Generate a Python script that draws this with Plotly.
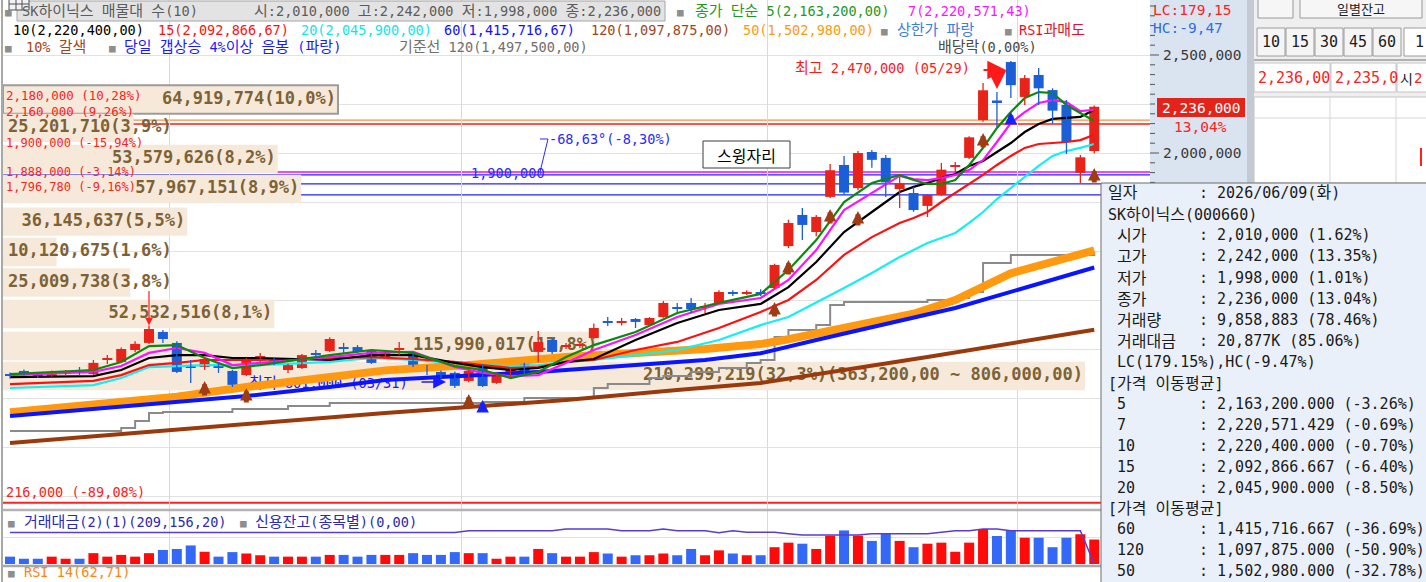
import re
import plotly.graph_objects as go

W, H = 1426, 582
KR = "Noto Sans CJK KR"
MIX = "DejaVu Sans Mono, Noto Sans CJK KR"
MONO = "DejaVu Sans Mono"

# ---------------- data ----------------
DAY = list(range(79))
OPEN = [868000, 888000, 864000, 862000, 876000, 890000, 872000, 947000, 934000, 995000,
        1031000, 1087000, 1031000, 910000, 908000, 910000, 888000, 867000, 957000, 949000,
        893000, 903000, 975000, 990000, 1008000, 1010000, 990000, 959000, 998000, 980000,
        895000, 883000, 878000, 837000, 918000, 827000, 857000, 924000, 985000, 1046000,
        1013000, 1018000, 1056000, 1140000, 1136000, 1153000, 1122000, 1163000, 1211000, 1235000,
        1213000, 1235000, 1288000, 1284000, 1288000, 1311000, 1525000, 1684000, 1597000, 1776000,
        1939000, 1821000, 2005000, 1975000, 1816000, 1796000, 1730000, 1786000, 1930000, 1975000,
        2168000, 2268000, 2464000, 2286000, 2398000, 2321000, 2245000, 1898000, 2010000]
HIGH = [880000, 895000, 870000, 890000, 893000, 908000, 944000, 969000, 1008000, 1040000,
        1120000, 1097000, 1040000, 944000, 959000, 934000, 893000, 954000, 980000, 957000,
        925000, 975000, 995000, 1060000, 1031000, 1020000, 995000, 985000, 1036000, 985000,
        918000, 890000, 885000, 895000, 923000, 875000, 900000, 930000, 1092000, 1055000,
        1030000, 1035000, 1130000, 1163000, 1158000, 1158000, 1163000, 1245000, 1235000, 1260000,
        1235000, 1300000, 1300000, 1300000, 1305000, 1435000, 1660000, 1720000, 1684000, 1944000,
        1985000, 2010000, 2015000, 1990000, 1877000, 1826000, 1790000, 1949000, 1954000, 2085000,
        2357000, 2311000, 2470000, 2398000, 2434000, 2330000, 2270000, 1990000, 2242000]
LOW = [850000, 865000, 852000, 858000, 862000, 866000, 868000, 924000, 930000, 985000,
       1025000, 1031000, 878000, 827000, 893000, 878000, 806000, 862000, 934000, 918000,
       878000, 898000, 954000, 985000, 980000, 978000, 924000, 954000, 969000, 908000,
       867000, 850000, 801000, 830000, 806000, 822000, 852000, 872000, 933000, 975000,
       1000000, 1005000, 1050000, 1117000, 1120000, 1107000, 1117000, 1160000, 1189000, 1183000,
       1184000, 1230000, 1270000, 1275000, 1270000, 1305000, 1515000, 1556000, 1575000, 1770000,
       1786000, 1810000, 1925000, 1775000, 1720000, 1700000, 1673000, 1780000, 1903000, 1970000,
       2160000, 2133000, 2280000, 2245000, 2245000, 2150000, 1995000, 1847000, 1998000]
CLOSE = [866000, 872000, 860000, 883000, 879000, 886000, 929000, 950000, 1000000, 1026000,
         1102000, 1051000, 883000, 906000, 949000, 906000, 817000, 939000, 960000, 923000,
         918000, 969000, 972000, 1051000, 1005000, 985000, 929000, 980000, 1001000, 913000,
         892000, 857000, 812000, 888000, 811000, 867000, 893000, 878000, 1036000, 985000,
         1016000, 1021000, 1107000, 1137000, 1139000, 1138000, 1158000, 1235000, 1208000, 1204000,
         1216000, 1291000, 1284000, 1288000, 1284000, 1429000, 1643000, 1633000, 1674000, 1912000,
         1798000, 2000000, 1965000, 1850000, 1844000, 1709000, 1786000, 1915000, 1935000, 2080000,
         2320000, 2260000, 2346000, 2382000, 2330000, 2216000, 2056000, 1978000, 2236000]
# 거래대금 (백만원)
TRADE_VALUE = [62800, 44900, 44900, 62800, 44900, 44900, 92700, 62800, 77700, 62800,
               92700, 119600, 128600, 158500, 104600, 62800, 101700, 89700, 74800, 62800,
               62800, 62800, 62800, 77700, 77700, 62800, 77700, 77700, 77700, 92700,
               77700, 77700, 101700, 92700, 92700, 44900, 62800, 62800, 128600, 92700,
               62800, 62800, 101700, 89700, 62800, 74800, 74800, 89700, 74800, 128600,
               74800, 116600, 89700, 74800, 74800, 143500, 182400, 173400, 128600, 242200,
               287000, 242200, 197300, 257100, 197300, 143500, 173400, 182400, 104600, 182400,
               299000, 239200, 287000, 224300, 224300, 143500, 224300, 254200, 209156]
# 신용잔고 (종목별)
CREDIT = [31.5, 31.5, 31.5, 31.5, 31.5, 31.5, 31.5, 31.5, 31.5, 31.5,
          31.5, 31.5, 31.5, 31.5, 31.5, 31.5, 31.5, 31.5, 31.5, 31.5,
          31.5, 31.5, 31.5, 31.5, 31.5, 31.5, 31.5, 31.5, 31.5, 31.5,
          31.5, 31.5, 31.5, 33.3, 33.3, 33.3, 33.3, 33.3, 33.3, 33.3,
          35.0, 35.0, 35.0, 35.0, 33.3, 33.3, 33.3, 35.0, 33.3, 33.3,
          33.3, 31.3, 33.3, 31.7, 31.7, 31.7, 30.3, 29.0, 29.0, 29.0,
          29.0, 29.0, 30.3, 30.3, 30.3, 30.3, 30.3, 31.7, 33.3, 33.3,
          35.0, 35.0, 33.3, 33.3, 33.3, 33.3, 33.3, 33.3, 0.0]

MA_IDX = [0, 6, 8, 10, 12, 14, 16, 18, 23, 26, 29, 32, 34, 36, 38, 40, 42, 45, 48, 51,
          54, 56, 58, 60, 62, 64, 65, 66, 67, 68, 69, 70, 71, 72, 73, 74, 75, 76, 77, 78]
MA5 = [872000, 893000, 934000, 1015000, 1020000, 954000, 903000, 918000, 969000, 995000,
       980000, 913000, 893000, 852000, 883000, 959000, 1020000, 1087000, 1184000, 1235000,
       1281000, 1403000, 1556000, 1750000, 1847000, 1888000, 1862000, 1842000, 1842000, 1862000,
       1939000, 2026000, 2128000, 2209000, 2281000, 2311000, 2306000, 2245000, 2204000, 2163200]
MA7 = [867000, 883000, 913000, 980000, 1005000, 980000, 918000, 929000, 959000, 980000,
       985000, 908000, 878000, 862000, 867000, 929000, 995000, 1071000, 1163000, 1230000,
       1260000, 1352000, 1505000, 1709000, 1796000, 1883000, 1867000, 1862000, 1872000, 1888000,
       1913000, 1964000, 2056000, 2153000, 2209000, 2255000, 2270000, 2260000, 2214000, 2220571]
MA10 = [857000, 862000, 893000, 954000, 969000, 969000, 954000, 954000, 944000, 969000,
        969000, 929000, 908000, 893000, 903000, 934000, 949000, 1046000, 1133000, 1199000,
        1230000, 1316000, 1444000, 1597000, 1699000, 1801000, 1827000, 1847000, 1872000, 1893000,
        1934000, 1959000, 2005000, 2051000, 2107000, 2148000, 2174000, 2179000, 2184000, 2220400]
MA15 = [821000, 837000, 867000, 918000, 929000, 944000, 944000, 944000, 954000, 959000,
        949000, 934000, 918000, 903000, 908000, 934000, 944000, 995000, 1036000, 1107000,
        1189000, 1250000, 1352000, 1480000, 1571000, 1643000, 1668000, 1699000, 1750000, 1796000,
        1842000, 1888000, 1939000, 1985000, 2026000, 2046000, 2051000, 2056000, 2066000, 2092867]
MA20 = [801000, 816000, 852000, 908000, 913000, 918000, 918000, 918000, 934000, 954000,
        944000, 929000, 918000, 913000, 918000, 934000, 944000, 969000, 995000, 1046000,
        1122000, 1163000, 1235000, 1311000, 1388000, 1469000, 1505000, 1541000, 1566000, 1592000,
        1643000, 1699000, 1765000, 1821000, 1878000, 1934000, 1985000, 2010000, 2026000, 2045900]
MA50_IDX = [0, 12, 17, 23, 27, 33, 40, 50, 54, 56, 60, 65, 68, 72, 78]
MA50 = [678000, 757000, 806000, 852000, 891000, 918000, 959000, 1000000, 1025000, 1050000,
        1110000, 1180000, 1250000, 1386000, 1502980]
MA60_IDX = [0, 12, 17, 23, 27, 31, 38, 45, 50, 54, 58, 68, 78]
MA60 = [658000, 732000, 760000, 806000, 842000, 857000, 883000, 918000, 944000, 978000,
        1046000, 1209000, 1415717]
MA120_IDX = [0, 12, 27, 33, 40, 48, 54, 66, 78]
MA120 = [520000, 590000, 674000, 704000, 740000, 791000, 827000, 959000, 1097875]
BASE_IDX = [0, 8, 9, 10, 11, 16, 20, 23, 34, 37, 42, 43, 46, 47, 49, 51, 53, 54, 55, 56,
            58, 59, 60, 66, 68, 69, 70, 72, 78]
BASE120 = [582000, 597000, 633000, 674000, 679000, 694000, 709000, 725000, 730000, 750000,
           801000, 821000, 852000, 862000, 883000, 903000, 929000, 944000, 1061000, 1097000,
           1122000, 1224000, 1240000, 1250000, 1260000, 1291000, 1439000, 1480000, 1497500]

# 매물대 (price-volume profile)
VP_PRICE = [2273000, 2128000, 1969000, 1816000, 1650000, 1495000, 1339000, 1179000, 1015000, 862000]
VP_AMOUNT = [64919774, 25201710, 53579626, 57967151, 36145637, 10120675, 25009738, 52532516,
             115990017, 210299219]
VP_PCT = [10.0, 3.9, 8.2, 8.9, 5.5, 1.6, 3.8, 8.1, 17.8, 32.3]
VP_EXTRA = ["", "", "", "", "", "", "", "", "", "(363,200,00 ~ 806,000,00)"]

# horizontal price lines
HLINE_PRICE = [2168000, 2148000, 1903000, 1888000, 1842000, 1786000, 216000]
HLINE_COLOR = ["#ff8c3c", "#ff1a1a", "#ff00ff", "#2222ff", "#2222ff", "#2222ff", "#ff2020"]

# signal arrows
BROWN_ARROW_IDX = [14, 17, 33, 55, 56, 59, 61, 70, 78]
BROWN_ARROW_PRICE = [837000, 801000, 770000, 1240000, 1454000, 1714000, 1704000, 2102000, 1923000]
BLUE_ARROW_IDX = [34, 72]
BLUE_ARROW_PRICE = [740000, 2209000]

PRICE_GRID = [250000, 500000, 750000, 1000000, 1250000, 1500000, 1750000, 2000000, 2250000, 2500000]
MONTH_BOUNDARY = [11.5, 32.5, 54.5, 72.5]

# ---------------- geometry helpers (pixel -> paper) ----------------
def px(x):
    return x / W


def py(y):
    return 1 - y / H


def K(s, size=15):
    """enlarge Hangul runs (full-width glyphs in the original bitmap font)"""
    return re.sub(r"([\uac00-\ud7a3]+)",
                  lambda m: f'<span style="font-size:{size}px">{m.group(1)}</span>', s)


XDOM = [px(3), px(1150)]
YMAIN = [py(509), 1.0]
YVOL = [py(565), py(511)]
PRICE_RANGE = [183700, 2780600]
IDX_RANGE = [-0.504, 82.01]
PCT_RANGE = [0, 34.24]
PX_PER_PCT = 1147 / 34.24

UP_C, DN_C = "#e8231a", "#1b5fd6"
VUP_C, VDN_C = "#ff0a0a", "#3468f6"

fig = go.Figure()

# ---- volume profile boxes (bottom subplot x/y) ----
fig.add_trace(go.Bar(
    x=VP_PCT, y=VP_PRICE, orientation="h", width=145000, xaxis="x", yaxis="y",
    marker=dict(color="#f6e9d9",
                line=dict(color=["#9c9c9c"] + ["rgba(0,0,0,0)"] * 9, width=[2] + [0] * 9)),
    hoverinfo="skip"))
vp_txt, vp_x, vp_pos = [], [], []
for amt, pct, extra in zip(VP_AMOUNT, VP_PCT, VP_EXTRA):
    s = f"{amt:,}({pct:.1f}%)".replace(".", ",") + extra
    vp_txt.append(s)
    if pct * PX_PER_PCT >= len(s) * 10.2 + 6:
        vp_x.append(pct - 2 / PX_PER_PCT)
        vp_pos.append("middle left")
    else:
        vp_x.append(5 / PX_PER_PCT)
        vp_pos.append("middle right")
fig.add_trace(go.Scatter(
    x=vp_x, y=VP_PRICE, mode="text", text=vp_txt, textposition=vp_pos, xaxis="x", yaxis="y",
    textfont=dict(family=MONO, size=17, color="#7d6236", weight="bold"), hoverinfo="skip"))

# ---- lowest-price label, drawn beneath the moving-average lines ----
fig.add_trace(go.Scatter(
    x=[17.2], y=[LOW[32] + 15000], mode="text", text=[K("최저 801,000 (03/31)", 15)],
    textposition="middle right", xaxis="x2", yaxis="y",
    textfont=dict(family=MIX, size=13.6, color="#1a1aff"), hoverinfo="skip"))

# ---- long moving averages ----
fig.add_trace(go.Scatter(x=BASE_IDX, y=BASE120, mode="lines", line=dict(color="#8a8a8a", width=2, shape="hv"),
                         xaxis="x2", yaxis="y", hoverinfo="skip"))
fig.add_trace(go.Scatter(x=MA120_IDX, y=MA120, mode="lines", line=dict(color="#9a3a0c", width=4),
                         xaxis="x2", yaxis="y", hoverinfo="skip"))
fig.add_trace(go.Scatter(x=MA50_IDX, y=MA50, mode="lines", line=dict(color="#ff9a10", width=8),
                         xaxis="x2", yaxis="y", hoverinfo="skip"))
fig.add_trace(go.Scatter(x=MA60_IDX, y=MA60, mode="lines", line=dict(color="#0a14ff", width=4),
                         xaxis="x2", yaxis="y", hoverinfo="skip"))

# ---- short moving averages ----
for vals, col in [(MA20, "#12f0f0"), (MA15, "#ff1010"), (MA10, "#000000"), (MA7, "#ff10ff"), (MA5, "#0a8a0a")]:
    fig.add_trace(go.Scatter(x=MA_IDX, y=vals, mode="lines", line=dict(color=col, width=2.2),
                             xaxis="x2", yaxis="y", hoverinfo="skip"))

# ---- candles ----
up = [c >= o for o, c in zip(OPEN, CLOSE)]
body_base = [min(o, c) for o, c in zip(OPEN, CLOSE)]
body_h = [max(abs(c - o), 5000) for o, c in zip(OPEN, CLOSE)]
fig.add_trace(go.Bar(x=DAY, y=body_h, base=body_base, width=0.72, xaxis="x2", yaxis="y",
                     marker=dict(color=[UP_C if u else DN_C for u in up], line=dict(width=0)),
                     hoverinfo="skip"))
for flag, col in [(True, UP_C), (False, DN_C)]:
    wx, wy = [], []
    for i, u in enumerate(up):
        if u == flag:
            wx += [DAY[i], DAY[i], None]
            wy += [LOW[i], HIGH[i], None]
    fig.add_trace(go.Scatter(x=wx, y=wy, mode="lines", line=dict(color=col, width=1.3),
                             xaxis="x2", yaxis="y", hoverinfo="skip"))

# ---- volume panel ----
fig.add_trace(go.Bar(x=DAY, y=TRADE_VALUE, width=0.72, xaxis="x3", yaxis="y3",
                     marker=dict(color=[VUP_C if u else VDN_C for u in up], line=dict(width=0)),
                     hoverinfo="skip"))
fig.add_trace(go.Scatter(x=DAY, y=CREDIT, mode="lines", line=dict(color="#5a3ccf", width=1.5),
                         xaxis="x3", yaxis="y4", hoverinfo="skip"))

# ---------------- shapes ----------------
shapes = []
for p, c in zip(HLINE_PRICE, HLINE_COLOR):
    shapes.append(dict(type="line", xref="x2 domain", x0=0, x1=1, yref="y", y0=p, y1=p,
                       line=dict(color=c, width=2 if p < 300000 else 1.3), layer="below"))


def rect(x0, y0, x1, y1, fill, line=None, lw=1):
    shapes.append(dict(type="rect", xref="paper", yref="paper", x0=px(x0), x1=px(x1), y0=py(y1), y1=py(y0),
                       fillcolor=fill, line=dict(color=line or fill, width=lw if line else 0), layer="above"))


def hline(x0, x1, y, color, w=1):
    shapes.append(dict(type="line", xref="paper", yref="paper", x0=px(x0), x1=px(x1), y0=py(y), y1=py(y),
                       line=dict(color=color, width=w), layer="above"))


def vline(x, y0, y1, color, w=1):
    shapes.append(dict(type="line", xref="paper", yref="paper", x0=px(x), x1=px(x), y0=py(y0), y1=py(y1),
                       line=dict(color=color, width=w), layer="above"))


# panel frames
vline(2, 0, 582, "#a8a8a8", 2)
hline(3, 1150, 510, "#b4b4b4", 2.5)
hline(3, 1150, 566, "#a8a8a8", 2.5)
# header box + icon
rect(17, 1, 665, 21, "#e3e3e3", "#a6a6a6")
rect(9, -2, 29, 10, "#f2f2f2", "#505050")
hline(9, 29, 4, "#505050")
vline(16, -2, 10, "#505050")
vline(22, -2, 10, "#505050")
# 스윙자리 box
rect(703, 141, 790, 168, "#ffffff", "#3c3c3c")
# trend line marker
shapes.append(dict(type="line", xref="paper", yref="paper", x0=px(540), x1=px(548), y0=py(172), y1=py(139),
                   line=dict(color="#2a2aff", width=1), layer="above"))
hline(540, 548, 139, "#2a2aff")
# axis panel
rect(1150, -2, 1247, 509, "#dae4f0")
for p in range(1800000, 2800001, 50000):
    major = p % 500000 == 0
    shapes.append(dict(type="line", xref="paper", yref="y", x0=px(1150), x1=px(1159 if major else 1155),
                       y0=p, y1=p, line=dict(color="#555555", width=1), layer="above"))
rect(1157, 98, 1245, 117, "#e4231b")
# right UI panel
rect(1247, -2, 1254, 183, "#c3cad3")
rect(1254, -2, 1430, 183, "#efefef")
rect(1258, -4, 1293, 18, "#f6f6f6", "#9a9a9a")
rect(1300, -4, 1422, 18, "#f6f6f6", "#9a9a9a")
for k in range(5):
    rect(1257 + 29 * k, 28, 1285 + 29 * k, 56, "#f5f5f5", "#9c9c9c")
rect(1404, 28, 1430, 56, "#ffffff", "#9c9c9c")
hline(1254, 1426, 60, "#b0b0b0", 2)
rect(1254, 63, 1330, 92, "#ffffff", "#c4c4c4")
rect(1331, 63, 1396, 92, "#ffffff", "#c4c4c4")
rect(1397, 63, 1430, 92, "#ffffff", "#c4c4c4")
rect(1254, 97, 1430, 183, "#ffffff", "#c4c4c4")
vline(1330, 97, 183, "#d6d6d6")
vline(1396, 97, 183, "#d6d6d6")
hline(1254, 1426, 118, "#d6d6d6")
vline(1421, 148, 166, "#ff2020", 2)
# tooltip
rect(1101, 183, 1432, 590, "#eaf0f9", "#6c6c6c")

# ---------------- annotations ----------------
ann = []


def T(text, x, y, color="#000000", size=13.6, family=MIX, xanchor="left", ksize=15, **kw):
    ann.append(dict(text=K(text, ksize), x=px(x), y=py(y), xref="paper", yref="paper", xanchor=xanchor,
                    yanchor="middle", showarrow=False, font=dict(family=family, size=size, color=color), **kw))


SQ = "#8e8e8e"
# header line 1
T("■", 3, 12, SQ, 11, ksize=11)
T("SK하이닉스 매물대 수(10)", 20, 11, "#5c5c5c")
T("시:2,010,000 고:2,242,000 저:1,998,000 종:2,236,000", 663, 11, "#5c5c5c", xanchor="right")
T("■", 675, 12, SQ, 11)
T("종가 단순 5(2,163,200,00)", 693, 11, "#1f9a1f")
T("7(2,220,571,43)", 906, 11, "#ff12ff")
# header line 2
T("10(2,220,400,00)", 11, 30, "#000000")
T("15(2,092,866,67)", 156, 30, "#ff1010")
T("20(2,045,900,00)", 299, 30, "#14e6e6")
T("60(1,415,716,67)", 442, 30, "#1010ff")
T("120(1,097,875,00)", 589, 30, "#a2461c")
T("50(1,502,980,00)", 741, 30, "#ff9a10")
T("■", 879, 31, SQ, 11)
T("상한가 파랑", 895, 30, "#3c7de0")
T("■", 1003, 31, SQ, 11)
T("RSI과매도", 1017, 30, "#e8102a")
# header line 3
T("■", 3, 48, SQ, 11)
T("10% 갈색", 24, 47, "#a2461c")
T("■", 107, 48, SQ, 11)
T("당일 갭상승 4%이상 음봉 (파랑)", 122, 47, "#1a1aff")
T("기준선 120(1,497,500,00)", 397, 47, "#707070")
T("배당락(0,00%)", 936, 47, "#4a4a4a")

# chart labels
T("최고 2,470,000 (05/29)", 793, 68, "#ff1a1a")
T("스윙자리", 746.5, 155, "#000000", 15, family=KR, xanchor="center", ksize=16)
T("-68,63°(-8,30%)", 547, 139, "#2a2aff")
T("1,900,000", 469, 173, "#2a2aff")
T("216,000 (-89,08%)", 4, 492, "#ff2020")
T("2,180,000 (10,28%)", 4, 96, "#ff2020", 12.5)
T("2,160,000 (9,26%)", 4, 111, "#ff2020", 12.5)
T("1,900,000 (-15,94%)", 4, 143, "#ff2020", 12)
T("1,888,000 (-3,14%)", 4, 172, "#ff2020", 12)
T("1,796,780 (-9,16%)", 4, 187, "#ff2020", 12)

# volume / rsi headers
T("■", 6, 523, SQ, 11)
T("거래대금(2)(1)(209,156,20)", 22, 522, "#2a2ab4")
T("■", 238, 523, SQ, 11)
T("신용잔고(종목별)(0,00)", 253, 522, "#2a2ab4")
T("■", 6, 573, SQ, 11)
T("RSI 14(62,71)", 22, 572, "#ff8410")

# axis panel
T("LC:179,15", 1151, 10, "#ff2020", 14.5)
T("HC:-9,47", 1151, 28, "#2f6fe0", 14.5)
T("2,500,000", 1161, 55, "#3a3a3a", 14.5)
T("2,000,000", 1161, 153, "#3a3a3a", 14.5)
T("2,236,000", 1201, 107.5, "#ffffff", 14.5, xanchor="center")
T("13,04%", 1172, 127, "#ff2020", 14.5)

# right UI panel
T("일별잔고", 1361, 9, "#202020", 13, family=KR, xanchor="center", ksize=13)
for k, lab in enumerate(["10", "15", "30", "45", "60"]):
    T(lab, 1271 + 29 * k, 42, "#202020", 15, xanchor="center")
T("1", 1419, 42, "#202020", 15, xanchor="center")
T("2,236,00", 1256, 78, "#ff2020", 15)
T("2,235,0", 1333, 78, "#ff2020", 15)
T("시", 1398, 78, "#202020", 14, family=KR, ksize=14)
T("2", 1412, 78, "#ff2020", 14)

# tooltip
rows = [
    (193, 1106, "일자", ": 2026/06/09(화)"),
    (214, 1106, "SK하이닉스(000660)", None),
    (235, 1115, "시가", ": 2,010,000 (1.62%)"),
    (256, 1115, "고가", ": 2,242,000 (13.35%)"),
    (278, 1115, "저가", ": 1,998,000 (1.01%)"),
    (299, 1115, "종가", ": 2,236,000 (13.04%)"),
    (320, 1115, "거래량", ": 9,858,883 (78.46%)"),
    (341, 1115, "거래대금", ": 20,877K (85.06%)"),
    (362, 1115, "LC(179.15%),HC(-9.47%)", None),
    (383, 1106, "[가격 이동평균]", None),
    (404, 1115, "5", ": 2,163,200.000 (-3.26%)"),
    (425, 1115, "7", ": 2,220,571.429 (-0.69%)"),
    (446, 1115, "10", ": 2,220,400.000 (-0.70%)"),
    (467, 1115, "15", ": 2,092,866.667 (-6.40%)"),
    (488, 1115, "20", ": 2,045,900.000 (-8.50%)"),
    (508, 1106, "[가격 이동평균]", None),
    (529, 1115, "60", ": 1,415,716.667 (-36.69%)"),
    (550, 1115, "120", ": 1,097,875.000 (-50.90%)"),
    (571, 1115, "50", ": 1,502,980.000 (-32.78%)"),
]
for y, x, lab, val in rows:
    T(lab, x, y, "#1a1a1a", 15, ksize=16)
    if val:
        T(val, 1197, y, "#1a1a1a", 15, ksize=16)


# arrows
def ARR(x, y, axp, ayp, color, xref="paper", yref="paper", width=2, size=1.5):
    ann.append(dict(x=x, y=y, xref=xref, yref=yref, ax=axp, ay=ayp, showarrow=True, arrowhead=2,
                    arrowsize=size, arrowwidth=width, arrowcolor=color, text="", standoff=0))


for i, p in zip(BROWN_ARROW_IDX, BROWN_ARROW_PRICE):
    ARR(i, p, 0, 16, "#a03c14", xref="x2", yref="y", width=5, size=0.5)
for i, p in zip(BLUE_ARROW_IDX, BLUE_ARROW_PRICE):
    ARR(i, p, 0, 13, "#1422ff", xref="x2", yref="y", width=5, size=0.5)
ARR(px(1006), py(70), -24, 0, "#ff1a1a", width=2.2, size=1.7)
ARR(px(997), py(89), 0, -18, "#ff1a1a", width=2.2, size=1.7)
ARR(px(446), py(382), -26, 0, "#1a1aff", width=1.6, size=1.6)
ARR(10, HIGH[10], 0, -36, "#ff2020", xref="x2", yref="y", width=1.2, size=1.3)

fig.update_layout(
    width=W, height=H, margin=dict(l=0, r=0, t=0, b=0),
    paper_bgcolor="#ffffff", plot_bgcolor="#ffffff", showlegend=False, barmode="overlay",
    shapes=shapes, annotations=ann,
    xaxis=dict(domain=XDOM, range=PCT_RANGE, visible=False, fixedrange=True),
    xaxis2=dict(overlaying="x", anchor="y", range=IDX_RANGE, showgrid=True, tickvals=MONTH_BOUNDARY,
                gridcolor="#d9d9d9", showticklabels=False, zeroline=False, ticks="", showline=False),
    yaxis=dict(domain=YMAIN, range=PRICE_RANGE, tickvals=PRICE_GRID, gridcolor="#e2e2e2",
               showticklabels=False, zeroline=False, ticks="", showline=False),
    xaxis3=dict(domain=XDOM, anchor="y3", range=IDX_RANGE, showgrid=True, tickvals=MONTH_BOUNDARY,
                gridcolor="#d9d9d9", showticklabels=False, zeroline=False, ticks="", showline=False),
    yaxis3=dict(domain=YVOL, anchor="x3", range=[-8543, 452779], tickvals=[230000], gridcolor="#e2e2e2",
                showticklabels=False, zeroline=False, ticks="", showline=False),
    yaxis4=dict(overlaying="y3", anchor="x3", range=[-1, 53], visible=False),
)

fig.write_html("out.html")
